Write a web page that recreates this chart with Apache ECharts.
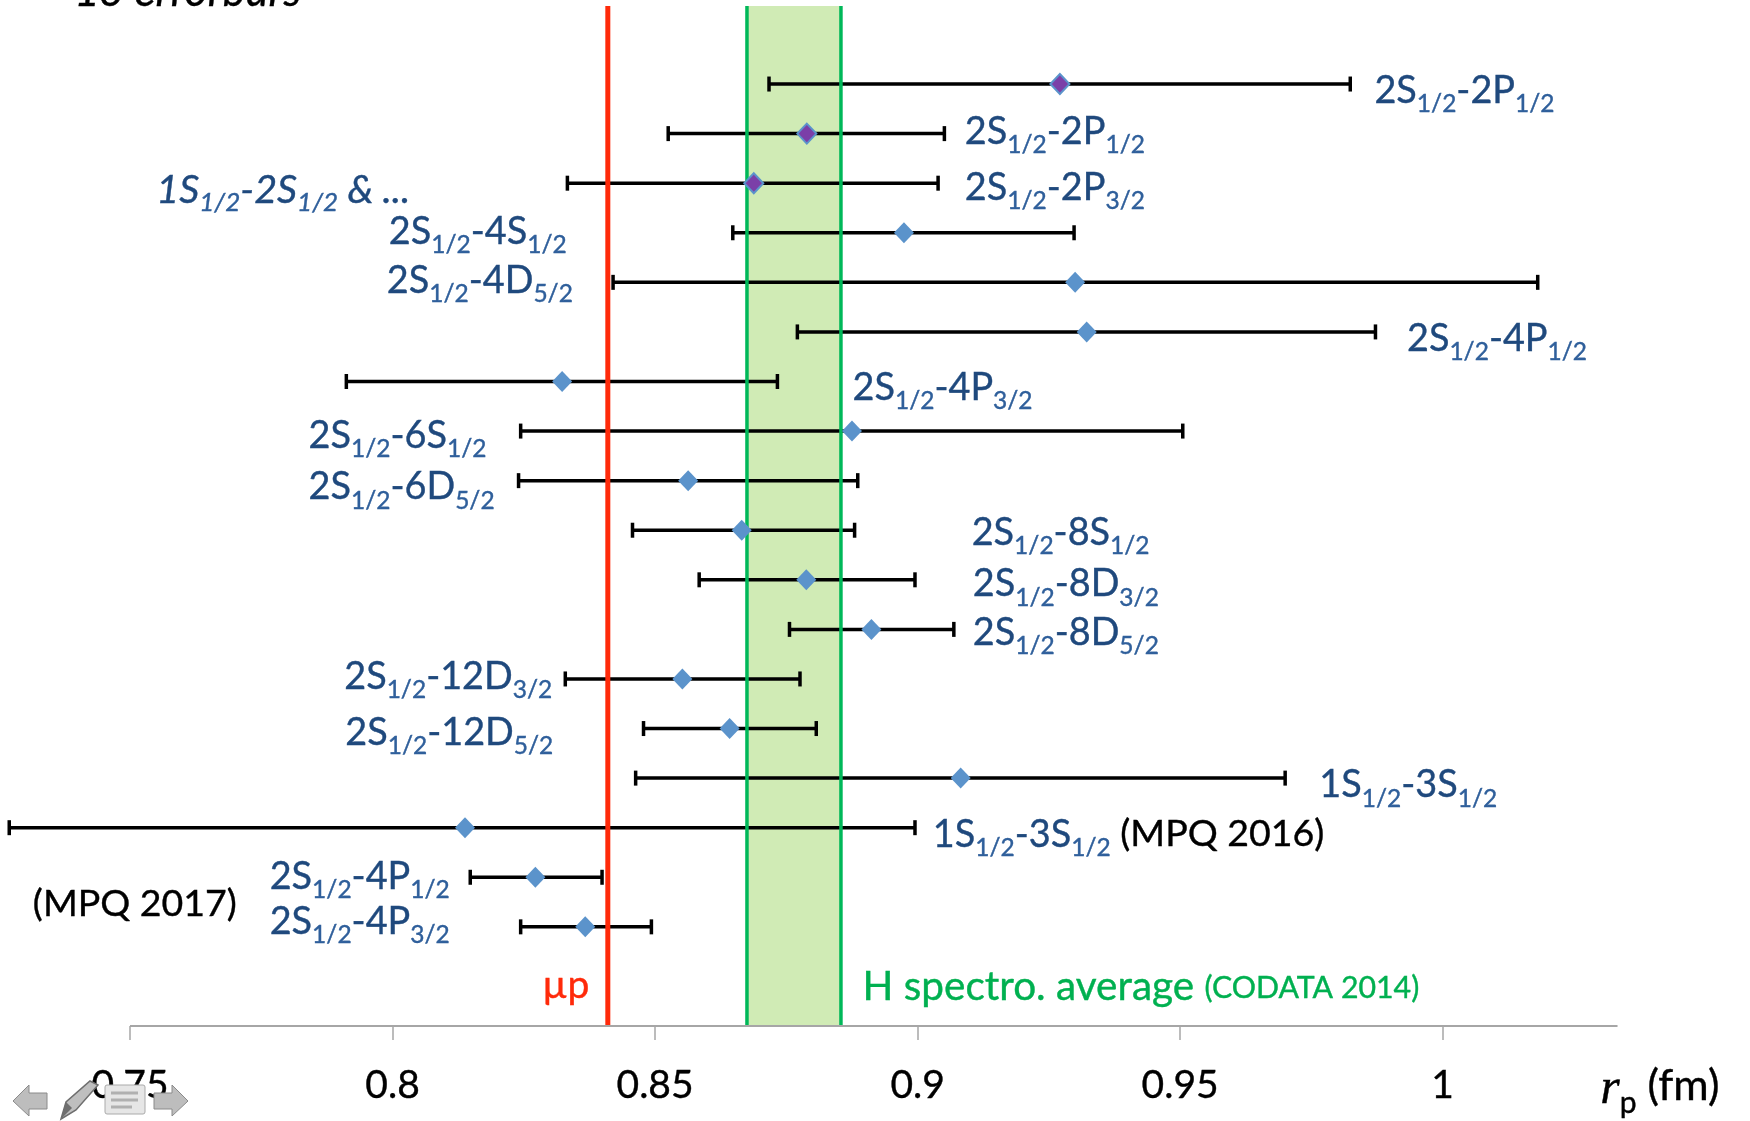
<!DOCTYPE html>
<html><head><meta charset="utf-8">
<style>html,body{margin:0;padding:0;background:#fff}#c{width:1750px;height:1121px}</style>
<script src="https://cdn.jsdelivr.net/npm/echarts@6/dist/echarts.min.js"></script></head>
<body><div id="c"></div>
<script>
const rows   = [1,2,3,4,5,6,7,8,9,10,11,12,13,14,15,16,17,18];
const lows   = [.8717,.8525,.8333,.8648,.8420,.8771,.7912,.8244,.8240,.8457,.8584,.8756,.8329,.8478,.8463,.7270,.8148,.8244];
const centers= [.9271,.8789,.8688,.8974,.9300,.9322,.8323,.8875,.8563,.8665,.8788,.8912,.8552,.8642,.9082,.8138,.8272,.8367];
const highs  = [.9824,.9051,.9039,.9298,1.0181,.9872,.8733,.9505,.8886,.8880,.8995,.9069,.8776,.8807,.9700,.8995,.8399,.8493];
const tickValues = [0.75,0.8,0.85,0.9,0.95,1];
const muonicRadius = 0.841;
const codataBand = [0.8675,0.8854];
const axisEnds = [0.75,1.0333];

const labelTexts = [
 '{m|2S}{s|1/2}{m|-2P}{s|1/2}','{m|2S}{s|1/2}{m|-2P}{s|1/2}','{m|2S}{s|1/2}{m|-2P}{s|3/2}',
 '{mi|1S}{si|1/2}{mi|-2S}{si|1/2}{mi| & ...}','{m|2S}{s|1/2}{m|-4S}{s|1/2}','{m|2S}{s|1/2}{m|-4D}{s|5/2}',
 '{m|2S}{s|1/2}{m|-4P}{s|1/2}','{m|2S}{s|1/2}{m|-4P}{s|3/2}','{m|2S}{s|1/2}{m|-6S}{s|1/2}',
 '{m|2S}{s|1/2}{m|-6D}{s|5/2}','{m|2S}{s|1/2}{m|-8S}{s|1/2}','{m|2S}{s|1/2}{m|-8D}{s|3/2}',
 '{m|2S}{s|1/2}{m|-8D}{s|5/2}','{m|2S}{s|1/2}{m|-12D}{s|3/2}','{m|2S}{s|1/2}{m|-12D}{s|5/2}',
 '{m|1S}{s|1/2}{m|-3S}{s|1/2}','{m|1S}{s|1/2}{m|-3S}{s|1/2}{k| (MPQ 2016)}','{m|2S}{s|1/2}{m|-4P}{s|1/2}',
 '{m|2S}{s|1/2}{m|-4P}{s|3/2}','{k|(MPQ 2017)}','{r|µp}','{g|H spectro. average }{gs|(CODATA 2014)}',
 '{ri|r}{rs|p}{kb| (fm)}'
];
const labelX = [.9870,.9090,.9090,.7550,.7993,.7989,.9932,.8876,.7840,.7840,.9103,.9105,.9105,.7908,.7910,.9765,.9029,.7766,.7766,.7315,.8285,.8895,1.0300];
const labelRow = [1.135,1.968,3.095,3.117,3.973,4.964,6.135,7.126,8.095,9.131,10.054,11.090,12.059,12.959,14.086,15.144,16.135,16.991,17.892,17.532,19.175,19.175,21.225];

const M=37.8,S=24.5,LH=44,SD=20;
const fat=(c,w)=>({textBorderColor:c,textBorderWidth:w===undefined?0.4:w});
const main=(c,extra)=>Object.assign({fontFamily:'Lato',fontSize:M,color:c,lineHeight:LH,verticalAlign:'top'},fat(c),extra||{});
const sub=(c,extra)=>Object.assign({fontFamily:'Lato',fontSize:S,color:c,lineHeight:26,padding:[SD,0,0,0],verticalAlign:'top'},fat(c),extra||{});
const rich={
 m:main('#1F497D'), s:sub('#2F5F9B'),
 mi:main('#1F497D',{fontStyle:'italic',fontSize:39.5}), si:sub('#2F5F9B',{fontStyle:'italic',fontSize:26}),
 k:main('#000000',{fontSize:37.5}), kb:main('#000000',{fontSize:43}),
 r:main('#FF2A0A',{fontSize:39}), g:main('#00B050',{fontSize:40.5}),
 gs:main('#00B050',{fontSize:30.3,padding:[7,0,0,0]}),
 ri:main('#000000',{fontFamily:'Liberation Serif',fontStyle:'italic',fontSize:50,lineHeight:50}),
 rs:sub('#000000',{fontSize:30,padding:[24,0,0,0]})
};
const chart=echarts.init(document.getElementById('c'),null,{renderer:'canvas'});
chart.setOption({
 animation:false,
 grid:{left:0,width:1617,top:6,height:1020},
 xAxis:{type:'value',position:'bottom',min:0.72524,max:1.0332,splitLine:{show:false},axisLine:{show:false,onZero:false},
  axisTick:{show:true,length:14,customValues:tickValues,lineStyle:{color:'#A6A6A6',width:1.5}},
  axisLabel:{show:true,margin:40,customValues:tickValues,fontFamily:'Lato',fontSize:39,color:'#000',textBorderColor:'#000',textBorderWidth:0.4,formatter:v=>String(+v.toFixed(2))}},
 yAxis:{type:'value',inverse:true,min:-0.574,max:20,show:false},
 graphic:[
  {type:'text',left:74,top:-30,z:20,style:{text:'1σ errorbars',font:'italic 44px Lato',fill:'#000',stroke:'#000',lineWidth:0.4}},
  {type:'polygon',z:30,shape:{points:[[13,1101],[29,1085],[29,1093],[47,1093],[47,1109],[29,1109],[29,1116]]},style:{fill:'#BDBDBD',stroke:'#8A8A8A',lineWidth:1}},
  {type:'polygon',z:31,shape:{points:[[61,1119],[66,1102],[90,1081],[98,1085],[76,1110]]},style:{fill:'#BFBFBF',stroke:'#6E6E6E',lineWidth:1.5}},
  {type:'polygon',z:31,shape:{points:[[61,1119],[66,1102],[72,1108]]},style:{fill:'#6E6E6E'}},
  {type:'rect',z:32,shape:{x:105,y:1085,width:40,height:29,r:2},style:{fill:'#E6E6E6',stroke:'#AAAAAA',lineWidth:1}},
  {type:'line',z:33,shape:{x1:111,y1:1093,x2:138,y2:1093},style:{stroke:'#B0B0B0',lineWidth:3}},
  {type:'line',z:33,shape:{x1:111,y1:1100,x2:138,y2:1100},style:{stroke:'#B0B0B0',lineWidth:3}},
  {type:'line',z:33,shape:{x1:111,y1:1107,x2:132,y2:1107},style:{stroke:'#B0B0B0',lineWidth:3}},
  {type:'polygon',z:30,shape:{points:[[188,1101],[172,1085],[172,1093],[154,1093],[154,1109],[172,1109],[172,1116]]},style:{fill:'#BDBDBD',stroke:'#8A8A8A',lineWidth:1}}
 ],
 series:[
  {type:'custom',name:'band',z:1,coordinateSystem:'cartesian2d',data:[[codataBand[0],codataBand[1]]],silent:true,
   renderItem:(p,api)=>{const a=api.coord([api.value(0),-0.574]),b=api.coord([api.value(1),20]);
    return {type:'rect',shape:{x:a[0],y:a[1],width:b[0]-a[0],height:b[1]-a[1]},style:{fill:'#D0EBB5'}};}},
  {type:'custom',name:'errorbars',z:2,coordinateSystem:'cartesian2d',silent:true,
   data:rows.map((r,i)=>[lows[i],highs[i],r]),
   renderItem:(p,api)=>{const a=api.coord([api.value(0),api.value(2)]),b=api.coord([api.value(1),api.value(2)]);
    const st={stroke:'#000',lineWidth:3.5};
    return {type:'group',children:[
     {type:'line',shape:{x1:a[0],y1:a[1],x2:b[0],y2:b[1]},style:st},
     {type:'line',shape:{x1:a[0],y1:a[1]-7.5,x2:a[0],y2:a[1]+7.5},style:st},
     {type:'line',shape:{x1:b[0],y1:b[1]-7.5,x2:b[0],y2:b[1]+7.5},style:st}]};}},
  {type:'custom',name:'refs',z:3,coordinateSystem:'cartesian2d',silent:true,
   data:[[muonicRadius],[codataBand[0]],[codataBand[1]]],
   renderItem:(p,api)=>{const v=api.value(0);
    const c=['#FF2A0A','#00B859','#00B859'][p.dataIndexInside],w=[5,3.5,3.5][p.dataIndexInside];
    const a=api.coord([v,-0.574]),b=api.coord([v,20]);
    return {type:'line',shape:{x1:a[0],y1:a[1],x2:b[0],y2:b[1]},style:{stroke:c,lineWidth:w}};}},
  {type:'custom',name:'baseline',z:3,coordinateSystem:'cartesian2d',silent:true,data:[axisEnds],
   renderItem:(p,api)=>{const a=api.coord([api.value(0),20]),b=api.coord([api.value(1),20]);
    return {type:'line',shape:{x1:a[0],y1:a[1],x2:b[0],y2:b[1]},style:{stroke:'#A6A6A6',lineWidth:2}};}},
  {type:'scatter',name:'points',z:4,symbol:'diamond',silent:true,itemStyle:{opacity:1},
   data:rows.map((r,i)=>({value:[centers[i],r],
     symbolSize:i<3?[19,20]:[20,21],
     itemStyle:i<3?{color:'#7B3FA8',borderColor:'#5B93CB',borderWidth:2,opacity:1}:{color:'#5B93CB',opacity:1}}))},
  {type:'scatter',name:'labels',z:5,symbolSize:0,clip:false,silent:true,itemStyle:{opacity:1},
   data:labelTexts.map((t,i)=>({value:[labelX[i],labelRow[i]]})),
   label:{show:true,position:[0,3],align:'left',verticalAlign:'middle',rich,
     formatter:p=>labelTexts[p.dataIndex]},labelLayout:{hideOverlap:false}}
 ]
});
</script></body></html>
